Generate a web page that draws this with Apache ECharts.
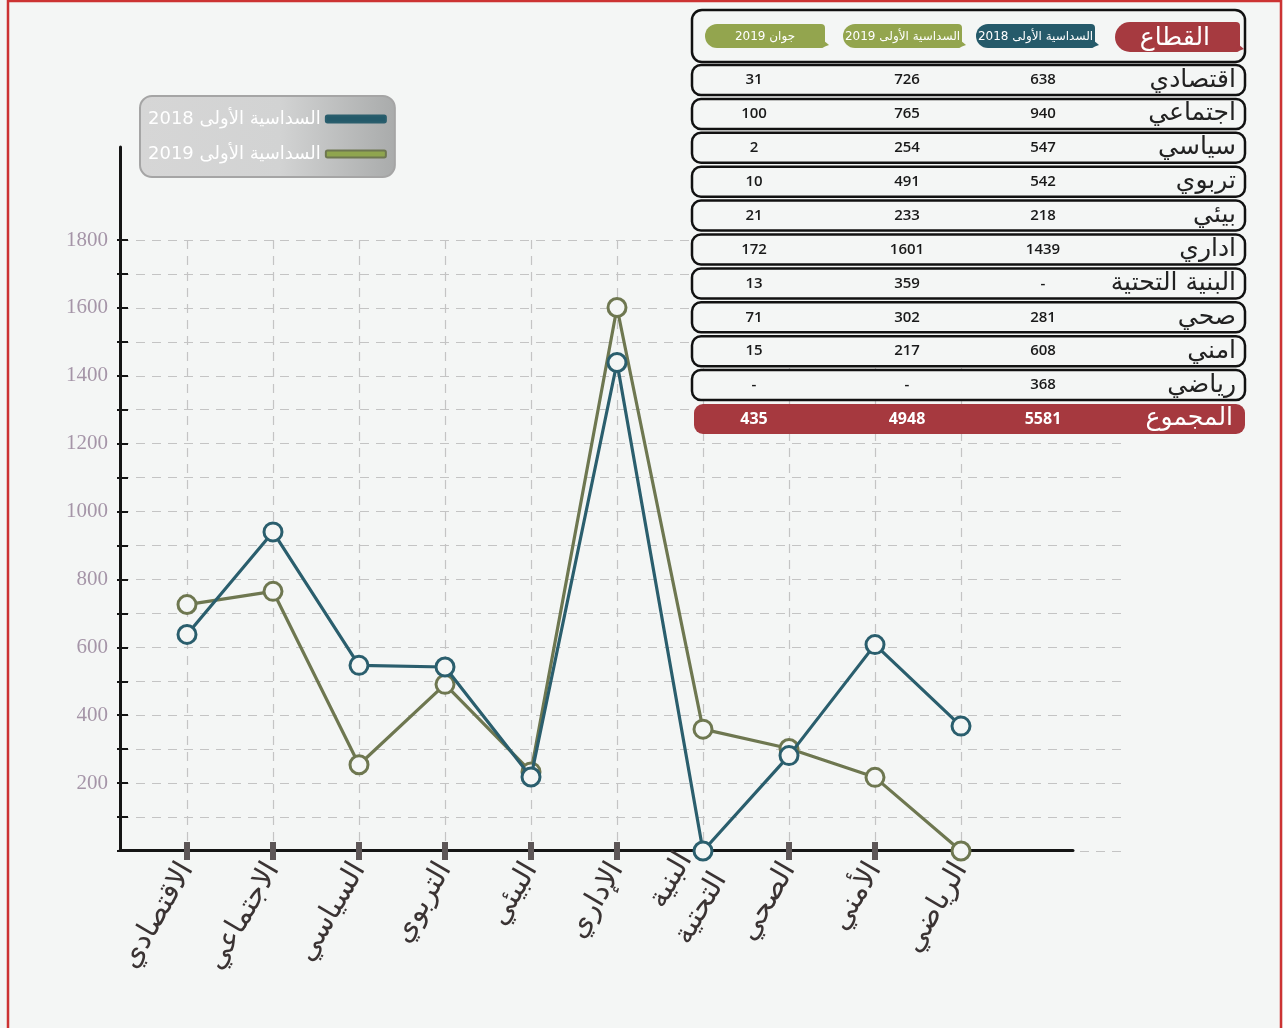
<!DOCTYPE html>
<html>
<head>
<meta charset="utf-8">
<script src="https://cdn.jsdelivr.net/npm/echarts@6/dist/echarts.min.js"></script>
<style>
html,body{margin:0;padding:0;background:#f4f6f5;}
#c{width:1283px;height:1028px;}
</style>
</head>
<body>
<div id="c" dir="rtl"></div>
<script>
// ---- chart data ----
const categories = ['الاقتصادي','الاجتماعي','السياسي','التربوي','البيئي','الإداري','البنية\nالتحتية','الصحي','الأمني','الرياضي'];
const seriesNames = ['السداسية الأولى 2018','السداسية الأولى 2019'];
const values2018 = [638, 940, 547, 542, 218, 1439, 0, 281, 608, 368];
const values2019 = [726, 765, 254, 491, 233, 1601, 359, 302, 217, 0];
const yTickLabels = [200, 400, 600, 800, 1000, 1200, 1400, 1600, 1800];

// ---- table data ----
const tableHeaders = ['القطاع','السداسية الأولى 2018','السداسية الأولى 2019','جوان 2019'];
const tableSectors = ['اقتصادي','اجتماعي','سياسي','تربوي','بيئي','اداري','البنية التحتية','صحي','امني','رياضي'];
const tableH1_2018 = ['638','940','547','542','218','1439','-','281','608','368'];
const tableH1_2019 = ['726','765','254','491','233','1601','359','302','217','-'];
const tableJune2019 = ['31','100','2','10','21','172','13','71','15','-'];
const totalLabel = 'المجموع';
const totals = ['5581','4948','435'];

const BLUE = '#2a5e6d', OLIVE = '#6e7750', BG = '#f4f6f5';
const AR = '"DejaVu Sans", sans-serif';

// ---- table graphic ----
const g = [];
g.push({type:'rect', shape:{x:8,y:1,width:1273,height:1040}, style:{fill:'none', stroke:'#cc3333', lineWidth:2.5}, silent:true, z:0});
// header
g.push({type:'rect', shape:{x:692,y:10,width:553,height:52,r:10}, style:{fill:BG, stroke:'#111', lineWidth:2.5}, z:5});
const pills = [
  {x:1115,y:22,w:125,h:30,fill:'#a63a40',size:25},
  {x:976,y:24,w:119,h:24,fill:'#255a6a',size:12},
  {x:843,y:24,w:119,h:24,fill:'#93a54e',size:12},
  {x:705,y:24,w:120,h:24,fill:'#93a54e',size:12}
];
pills.forEach((p,i)=>{
  g.push({type:'rect', shape:{x:p.x,y:p.y,width:p.w,height:p.h,r:[p.h/2,4,4,p.h/2]}, style:{fill:p.fill}, z:6});
  g.push({type:'polygon', shape:{points:[[p.x+p.w-2,p.y+p.h-8],[p.x+p.w+4,p.y+p.h-3],[p.x+p.w-4,p.y+p.h]]}, style:{fill:p.fill}, z:6});
  g.push({type:'text', style:{text:tableHeaders[i], x: i===0 ? p.x+p.w-30 : p.x+p.w/2, y:p.y+p.h/2+1, fill:'#fff', font: p.size+'px '+AR, textAlign: i===0?'right':'center', textVerticalAlign:'middle', align: i===0?'right':'center', verticalAlign:'middle'}, z:7});
});
const colX = [1043, 907, 754];
tableSectors.forEach((s,i)=>{
  const y = 65 + i*33.9;
  g.push({type:'rect', shape:{x:692,y:y,width:553,height:30,r:9}, style:{fill:BG, stroke:'#111', lineWidth:2.5}, z:5});
  g.push({type:'text', style:{text:s, x:1236, y:y+15, fill:'#222', font:'25px '+AR, textAlign:'right', textVerticalAlign:'middle', align:'right', verticalAlign:'middle'}, z:7});
  [tableH1_2018[i], tableH1_2019[i], tableJune2019[i]].forEach((v,k)=>{
    g.push({type:'text', style:{text:v, x:colX[k], y:y+15, fill:'#1a1a1a', font:'600 15px "Open Sans", sans-serif', textAlign:'center', textVerticalAlign:'middle', align:'center', verticalAlign:'middle'}, z:7});
  });
});
const ty = 404;
g.push({type:'rect', shape:{x:694,y:ty,width:551,height:30,r:9}, style:{fill:'#a6393f'}, z:5});
g.push({type:'text', style:{text:totalLabel, x:1233, y:ty+14, fill:'#fff', font:'25px '+AR, textAlign:'right', textVerticalAlign:'middle', align:'right', verticalAlign:'middle'}, z:7});
totals.forEach((v,k)=>{
  g.push({type:'text', style:{text:v, x:colX[k], y:ty+15, fill:'#fff', font:'bold 16px "Open Sans", sans-serif', textAlign:'center', textVerticalAlign:'middle', align:'center', verticalAlign:'middle'}, z:7});
});

const chart = echarts.init(document.getElementById('c'), null, {renderer:'canvas'});
const option = {
  backgroundColor: BG,
  animation: false,
  graphic: {elements: g},
  legend: {
    orient:'vertical', left:140, top:96, align:'right',
    padding:[12,8,12,8], itemGap:13, itemWidth:60, itemHeight:7,
    icon:'roundRect',
    backgroundColor:{type:'linear',x:0,y:0,x2:1,y2:0,colorStops:[{offset:0,color:'#d6d6d6'},{offset:0.55,color:'#d2d3d3'},{offset:1,color:'#a9abab'}]},
    borderColor:'#a5a5a5', borderWidth:2, borderRadius:12,
    textStyle:{color:'#fff', fontSize:18, fontFamily:AR, lineHeight:22},
    data:[
      {name:seriesNames[0], itemStyle:{color:'#245a6a'}},
      {name:seriesNames[1], itemStyle:{color:'#8fa54e'}}
    ]
  },
  grid: [
    {left:120, right:158, top:240, bottom:177},
    {left:120, right:210, top:147, bottom:178},
    {left:187, right:322, top:240, bottom:177}
  ],
  xAxis: [
    {gridIndex:0, type:'value', show:false},
    {gridIndex:1, type:'value', axisLine:{show:true, lineStyle:{color:'#151515', width:3}}, axisTick:{show:false}, axisLabel:{show:false}, splitLine:{show:false}},
    {gridIndex:2, type:'category', boundaryGap:false, data:categories, position:'bottom',
      axisLine:{show:false},
      axisTick:{show:true, length:9, lineStyle:{color:'#5d5657', width:6}},
      splitLine:{show:true, lineStyle:{color:'#c4c4c4', type:[9,7], width:1.2}},
      axisLabel:{rotate:60, margin:14, fontSize:29, color:'#3a3333', fontFamily:AR, lineHeight:40}
    },
    {gridIndex:2, type:'category', boundaryGap:false, data:categories, position:'bottom',
      axisLine:{show:false}, axisLabel:{show:false}, splitLine:{show:false},
      axisTick:{show:true, inside:true, length:9, lineStyle:{color:'#5d5657', width:6}}
    }
  ],
  yAxis: [
    {gridIndex:0, type:'value', min:0, max:1800, interval:100, position:'left',
      axisLine:{show:false},
      axisTick:{show:true, length:3, lineStyle:{color:'#151515', width:2}},
      axisLabel:{margin:12, color:'#a595a8', fontSize:21, fontFamily:'"Liberation Serif", serif',
        formatter:(v)=> yTickLabels.indexOf(v)>=0 ? String(v) : ''},
      splitLine:{show:true, lineStyle:{color:'#c4c4c4', type:[9,7], width:1.2}}
    },
    {gridIndex:0, type:'value', min:0, max:1800, interval:100, position:'left',
      axisLine:{show:false}, axisLabel:{show:false}, splitLine:{show:false},
      axisTick:{show:true, inside:true, length:8, lineStyle:{color:'#151515', width:2}}
    },
    {gridIndex:1, type:'value', position:'left', axisLine:{show:true, lineStyle:{color:'#151515', width:3}}, axisTick:{show:false}, axisLabel:{show:false}, splitLine:{show:false}},
    {gridIndex:2, type:'value', min:0, max:1800, show:false}
  ],
  series: [
    {name:seriesNames[0], type:'line', xAxisIndex:2, yAxisIndex:3, data:values2018,
      symbol:'circle', symbolSize:18, z:4,
      lineStyle:{color:BLUE, width:3.2}, itemStyle:{color:BG, borderColor:BLUE, borderWidth:3}},
    {name:seriesNames[1], type:'line', xAxisIndex:2, yAxisIndex:3, data:values2019,
      symbol:'circle', symbolSize:18, z:3,
      lineStyle:{color:OLIVE, width:3.2}, itemStyle:{color:BG, borderColor:OLIVE, borderWidth:3}}
  ]
};
chart.setOption(option);
</script>
</body>
</html>
